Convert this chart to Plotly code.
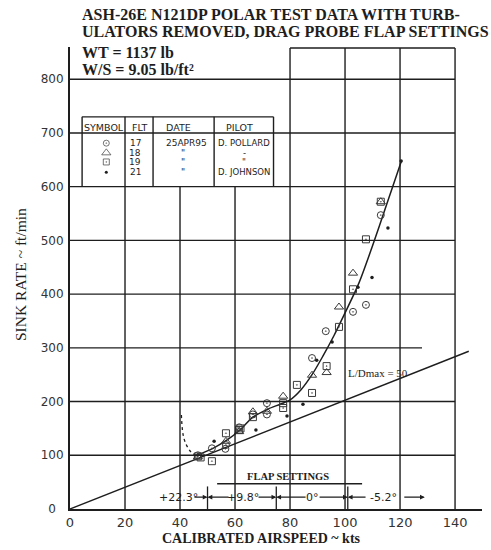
import plotly.graph_objects as go

# ---- Flight test data: calibrated airspeed (kts) vs sink rate (ft/min) ----
flt17_kts = [46.5, 51.6, 56.5, 56.7, 61.5, 66.5, 71.6, 71.6, 88.0, 93.0, 102.9, 107.6, 113.0]
flt17_sink = [100, 113, 112, 119, 152, 176, 197, 176, 281, 331, 367, 380, 547]

flt18_kts = [46.5, 56.7, 61.5, 66.5, 71.6, 77.5, 88.0, 93.3, 97.8, 102.9, 113.0]
flt18_sink = [97, 126, 144, 181, 182, 210, 249, 254, 376, 439, 572]

flt19_kts = [46.5, 47.5, 51.6, 56.7, 61.5, 62.0, 66.5, 77.5, 77.5, 82.5, 88.0, 93.3, 97.8, 102.9, 107.6, 113.0]
flt19_sink = [98, 96, 89, 141, 147, 150, 171, 197, 188, 231, 216, 266, 339, 409, 502, 572]

flt21_kts = [52.4, 67.6, 78.9, 84.7, 89.7, 95.3, 104.7, 109.8, 115.6, 120.4]
flt21_sink = [126, 147, 173, 195, 277, 311, 413, 431, 523, 648]

# Faired polar through the data, and the dashed stall end
fair_kts = [46, 52, 57, 61.8, 66.5, 72, 76.4, 80, 84, 88, 92, 96, 100, 105, 110, 115, 120.5]
fair_sink = [100, 113, 128, 147, 171, 186, 195, 203, 222, 250, 285, 323, 365, 420, 490, 565, 648]
stall_kts = [40.5, 41.5, 44, 46]
stall_sink = [175, 130, 106, 100]

# Tangent line for best glide ratio
ld_max = 50
ld_kts = [0, 145]
KT_TO_FPM = 101.269
ld_sink = [v * KT_TO_FPM / ld_max for v in ld_kts]

# Flap schedule along the speed axis
flap_bounds = [50, 75, 101]
flap_labels = ["+22.3°", "+9.8°", "0°", "-5.2°"]

# Flight log table
table_flt = ["17", "18", "19", "21"]
table_date = ["25APR95", "\"", "\"", "\""]
table_pilot = ["D. POLLARD", "-", "\"", "D. JOHNSON"]

# Axis ticks
x_ticks = [0, 20, 40, 60, 80, 100, 120, 140]
y_ticks = [0, 100, 200, 300, 400, 500, 600, 700, 800]
y_ticktext = ["0\u00a0\u00a0", "100", "200", "300", "400", "500", "600", "700", "800"]

INK = "#1e1e1e"
SERIF = "Liberation Serif"
HAND = "DejaVu Sans"

fig = go.Figure()

# ---- grid drawn on the sheet ----
shapes = []
def seg(x0, y0, x1, y1, w=1.4, dash=None, color=INK):
    d = dict(type="line", xref="x", yref="y", x0=x0, y0=y0, x1=x1, y1=y1,
             line=dict(color=color, width=w))
    if dash:
        d["line"]["dash"] = dash
    shapes.append(d)

for y in [100, 200, 400, 500, 600, 700, 800]:
    seg(0, y, 140, y)
seg(0, 300, 128, 300)
for x in [20, 40, 60]:
    seg(x, 0, x, 600)
for x in [80, 100, 120, 140]:
    seg(x, 0, x, 858)
seg(80, 858, 140, 858)

# flight log table frame
tbl_l, tbl_r, tbl_t = 4.4, 74, 730
seg(tbl_l, 600, tbl_l, tbl_t)
seg(tbl_r, 600, tbl_r, tbl_t)
seg(tbl_l, tbl_t, tbl_r, tbl_t)
for x in [20, 30.2, 52.4]:
    seg(x, 600, x, tbl_t)

# flap setting boundaries and underline
for b in flap_bounds:
    seg(b, 0, b, 42, w=1.3)
seg(53.5, 47, 106.2, 47, w=1.3)

annotations = []

# ---- flap schedule arrows and labels ----
flap_text_x = [39.3, 63.0, 88.0, 114.0]
flap_text_edges = [(44.7, None), (58.2, 68.0), (86.2, 90.2), (108.0, 121.0)]
region_edges = [(None, flap_bounds[0]), (flap_bounds[0], flap_bounds[1]),
                (flap_bounds[1], flap_bounds[2]), (flap_bounds[2], 129.0)]
flap_y = 22

def arrow(x_tip, x_tail):
    annotations.append(dict(x=x_tip, y=flap_y, ax=x_tail, ay=flap_y, xref="x", yref="y",
                            axref="x", ayref="y", text="", showarrow=True,
                            arrowhead=2, arrowsize=0.8, arrowwidth=1.2, arrowcolor=INK))

for lab, tx, (lx, rx), (lo, hi) in zip(flap_labels, flap_text_x, flap_text_edges, region_edges):
    annotations.append(dict(x=tx, y=flap_y, xref="x", yref="y", text=lab, showarrow=False,
                            font=dict(family=HAND, size=11, color=INK)))
    if lo is None:
        arrow(hi, lx)
    else:
        arrow(lo, lx)
        arrow(hi, rx)

annotations.append(dict(x=79.3, y=60, xref="x", yref="y", text="<b>FLAP SETTINGS</b>",
                        showarrow=False, font=dict(family=SERIF, size=10.5, color=INK)))

annotations.append(dict(x=112, y=253, xref="x", yref="y", text="L/Dmax = 50",
                        showarrow=False, font=dict(family=SERIF, size=11, color=INK)))

# ---- flight log table text ----
hdr_y = 711
row_y = [681, 663, 646, 627]
col_sym, col_flt, col_date, col_pilot = 13.2, 23.8, 41.0, 63.3
tfont = dict(family=HAND, size=9, color=INK)
for txt, x in [("SYMBOL", 12.4), ("FLT", 25.3), ("DATE", 39.6), ("PILOT", 61.8)]:
    annotations.append(dict(x=x, y=hdr_y, xref="x", yref="y", text=txt,
                            showarrow=False, font=dict(family=HAND, size=9.5, color=INK)))
for y, f, d, p in zip(row_y, table_flt, table_date, table_pilot):
    annotations.append(dict(x=col_flt, y=y, xref="x", yref="y", text=f, showarrow=False, font=tfont))
    annotations.append(dict(x=col_date + (1.2 if d != "\"" else 0), y=y, xref="x", yref="y",
                            text=d, showarrow=False, font=tfont))
    annotations.append(dict(x=col_pilot, y=y, xref="x", yref="y", text=p, showarrow=False,
                            font=dict(family=HAND, size=8.5, color=INK)))

# ---- titles ----
def ptx(px):
    return (px - 70) / 412.0
def pty(py):
    return (509 - py) / 462.0

for txt, py in [("ASH-26E N121DP POLAR TEST DATA WITH TURB-", 15),
                ("ULATORS REMOVED, DRAG PROBE FLAP SETTINGS", 31),
                ("WT = 1137 lb", 52),
                ("W/S = 9.05 lb/ft²", 69)]:
    annotations.append(dict(x=ptx(80), y=pty(py), xref="paper", yref="paper",
                            xanchor="left", yanchor="middle", text="<b>" + txt + "</b>",
                            showarrow=False, font=dict(family=SERIF, size=16, color=INK)))

annotations.append(dict(x=ptx(20), y=pty(275), xref="paper", yref="paper",
                        xanchor="center", yanchor="middle",
                        text="SINK RATE ~ ft/min", textangle=-90, showarrow=False,
                        font=dict(family=SERIF, size=15.5, color=INK)))
annotations.append(dict(x=ptx(261), y=pty(538), xref="paper", yref="paper",
                        xanchor="center", yanchor="middle",
                        text="<b>CALIBRATED AIRSPEED ~ kts</b>", showarrow=False,
                        font=dict(family=SERIF, size=14, color=INK)))

# ---- reference line and faired polar ----
fig.add_trace(go.Scatter(x=ld_kts, y=ld_sink, mode="lines",
                         line=dict(color=INK, width=1.4), hoverinfo="skip"))
fig.add_trace(go.Scatter(x=stall_kts, y=stall_sink, mode="lines",
                         line=dict(color=INK, width=1.3, dash="dot", shape="spline"),
                         hoverinfo="skip"))
fig.add_trace(go.Scatter(x=fair_kts, y=fair_sink, mode="lines",
                         line=dict(color=INK, width=1.5, shape="spline", smoothing=0.8),
                         hoverinfo="skip"))

# ---- data points by flight ----
MK = "#3a3a3a"
series = [
    (flt17_kts, flt17_sink, "circle-open-dot", 7),
    (flt18_kts, flt18_sink, "triangle-up-open", 8),
    (flt19_kts, flt19_sink, "square-open-dot", 7),
]
for xs, ys, sym, sz in series:
    fig.add_trace(go.Scatter(x=xs, y=ys, mode="markers",
                             marker=dict(symbol=sym, size=sz, color=MK,
                                         line=dict(color=MK, width=1))))
fig.add_trace(go.Scatter(x=flt21_kts, y=flt21_sink, mode="markers",
                         marker=dict(symbol="circle", size=3.5, color=INK)))

# symbol column of the flight log table
fig.add_trace(go.Scatter(x=[col_sym] * 3, y=row_y[:3], mode="markers",
                         marker=dict(symbol=["circle-open-dot", "triangle-up-open", "square-open-dot"],
                                     size=[6, 8, 6], color=MK, line=dict(color=MK, width=1))))
fig.add_trace(go.Scatter(x=[col_sym], y=[row_y[3]], mode="markers",
                         marker=dict(symbol="circle", size=3, color=INK)))

fig.update_layout(
    width=491, height=550,
    margin=dict(l=70, r=9, t=47, b=41),
    paper_bgcolor="white", plot_bgcolor="white",
    showlegend=False,
    shapes=shapes,
    annotations=annotations,
    xaxis=dict(range=[0, 149.8], tickvals=x_ticks, ticks="", showgrid=False, zeroline=False,
               showline=True, linecolor=INK, linewidth=2,
               tickfont=dict(family=HAND, size=13, color="#333"), ticklabelstandoff=0),
    yaxis=dict(range=[0, 860], tickvals=y_ticks, ticktext=y_ticktext, ticks="",
               showgrid=False, zeroline=False, showline=True, linecolor=INK, linewidth=2,
               tickfont=dict(family=HAND, size=12, color="#333"), ticklabelstandoff=2),
)

fig.write_html("out.html")
